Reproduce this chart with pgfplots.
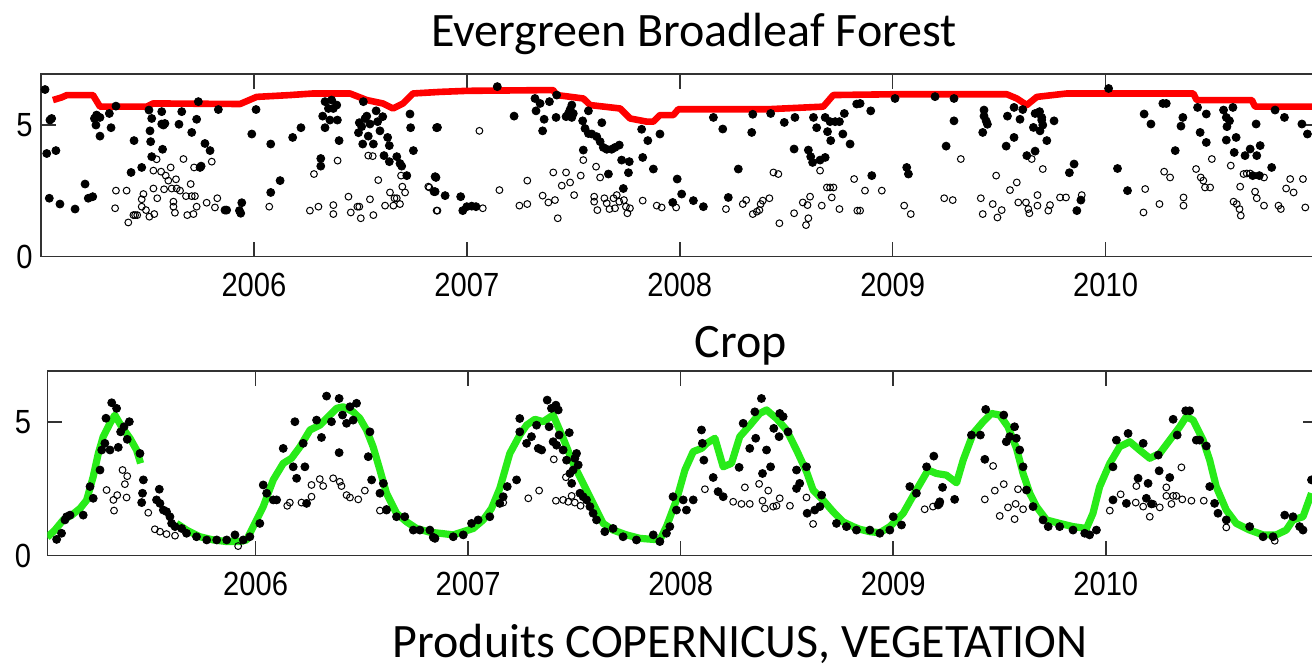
\documentclass[border=0pt]{standalone}
\usepackage{pgfplots}
\usepackage{pgfplotstable}
\pgfplotsset{compat=1.18}
\usepackage{fontspec}
\setmainfont{Carlito}
\newfontfamily\tickfam{Liberation Sans}
\newcommand\tickfont{\tickfam\fontsize{16.75}{18}\selectfont}
\definecolor{evred}{RGB}{255,0,0}
\definecolor{crgreen}{RGB}{40,235,25}
\definecolor{axgray}{RGB}{50,50,50}
\pgfplotsset{
  panel/.style={scale only axis, xmin=2005, xmax=2011, ymin=0,
    xtick={2006,2007,2008,2009,2010}, xticklabels={2006,2007,2008,2009,2010},
    ytick={0,5}, yticklabels={0,5},
    tick align=inside, major tick length=7.5pt,
    axis line style={line width=0.8pt, draw=axgray},
    tick style={line width=0.8pt, draw=axgray},
    xticklabel style={font=\tickfont, anchor=north, inner sep=0pt, yshift=-8.25pt, xscale=0.87},
    yticklabel style={font=\tickfont, anchor=east, inner sep=0pt, xshift=-4pt, xscale=0.87},
  },
  fdot/.style={only marks, mark=*, mark size=2pt, mark options={fill=black, draw=black}},
  odot/.style={only marks, mark=o, mark size=1.7pt, mark options={draw=black, line width=0.5pt, fill=none}},
}
\pgfplotstableread{
x y
2005.628 1.21
2005.675 0.96
2005.738 0.71
2005.801 0.59
2005.864 0.53
2005.926 0.53
2005.958 0.59
2005.989 1.09
2006.036 1.84
2006.083 2.84
2006.130 3.46
2006.169 3.65
2006.209 4.08
2006.256 4.71
2006.302 4.89
2006.350 5.27
2006.381 5.52
2006.412 5.58
2006.459 5.39
2006.491 5.14
2006.522 4.71
2006.553 4.08
2006.585 3.21
2006.616 2.34
2006.663 1.59
2006.710 1.27
2006.757 1.02
2006.820 0.88
2006.867 0.84
2006.930 0.78
2006.977 0.90
2007.024 1.02
2007.071 1.34
2007.110 1.77
2007.149 2.52
2007.196 3.83
2007.243 4.52
2007.275 4.89
2007.314 5.11
2007.353 5.02
2007.400 5.27
2007.447 4.40
2007.494 3.46
2007.541 2.71
2007.588 1.96
2007.635 1.21
2007.682 0.96
2007.745 0.78
2007.808 0.65
2007.871 0.61
2007.902 0.59
2007.933 1.09
2007.980 2.08
2008.020 3.21
2008.059 3.90
2008.098 4.02
2008.122 4.21
2008.161 4.40
2008.200 3.33
2008.239 3.46
2008.278 4.46
2008.326 4.89
2008.372 5.33
2008.404 5.46
2008.451 5.14
2008.498 4.71
2008.545 3.96
2008.592 3.15
2008.623 2.46
2008.670 2.08
2008.717 1.65
2008.764 1.27
2008.811 1.09
2008.843 0.99
2008.890 0.90
2008.937 0.86
2008.984 1.09
2009.047 1.59
2009.109 2.46
2009.164 3.21
2009.203 3.08
2009.250 3.02
2009.298 2.73
2009.329 3.58
2009.376 4.58
2009.423 5.02
2009.462 5.33
2009.501 5.27
2009.540 4.83
2009.580 4.02
2009.611 3.08
2009.643 2.33
2009.674 1.84
2009.721 1.34
2009.783 1.21
2009.846 1.09
2009.909 1.02
2009.940 1.59
2009.971 2.58
2010.019 3.46
2010.065 4.08
2010.113 4.27
2010.159 3.96
2010.207 3.65
2010.254 3.83
2010.301 4.33
2010.348 4.83
2010.379 5.21
2010.411 5.08
2010.458 4.33
2010.489 3.58
2010.520 2.58
2010.567 1.71
2010.614 1.21
2010.677 0.96
2010.740 0.78
2010.802 0.78
2010.849 0.96
2010.881 1.34
2010.928 1.46
2010.968 2.34
}\greenB
\pgfplotstableread{
x y
2005.020 0.69
2005.056 0.96
2005.095 1.34
2005.135 1.52
2005.174 1.77
2005.205 2.08
2005.236 2.96
2005.260 3.83
2005.283 4.46
2005.315 4.96
2005.338 5.27
2005.370 4.83
2005.409 4.40
2005.440 3.96
2005.459 3.46
}\greenA
\begin{document}
\begin{tikzpicture}
% ---------------- Evergreen Broadleaf Forest ----------------
\begin{axis}[panel, at={(20.5pt,205.65pt)}, anchor=south west,
  width=638.75pt, height=91.35pt, ymax=6.94]
\addplot[odot] table {
x y
2005.348 1.84
2005.352 2.51
2005.402 2.51
2005.410 1.30
2005.434 1.58
2005.442 1.58
2005.452 1.58
2005.473 1.90
2005.473 2.18
2005.481 2.38
2005.493 1.77
2005.509 1.52
2005.528 2.59
2005.532 1.62
2005.528 3.27
2005.543 3.70
2005.546 2.22
2005.564 3.23
2005.578 2.56
2005.586 3.08
2005.598 2.89
2005.609 3.39
2005.614 2.59
2005.622 2.09
2005.622 1.90
2005.629 1.67
2005.634 2.94
2005.637 2.59
2005.653 2.51
2005.669 3.71
2005.681 2.30
2005.687 1.58
2005.703 2.76
2005.708 2.30
2005.716 1.62
2005.719 3.39
2005.723 2.30
2005.731 1.90
2005.778 2.05
2005.802 3.61
2005.817 1.87
2005.828 2.22
2006.072 1.90
2006.263 1.75
2006.282 3.14
2006.303 1.90
2006.373 1.96
2006.373 1.62
2006.393 3.65
2006.444 2.28
2006.455 1.68
2006.486 1.90
2006.495 1.90
2006.502 1.46
2006.545 2.18
2006.561 1.58
2006.584 2.91
2006.537 3.84
2006.558 3.82
2006.616 1.94
2006.639 2.44
2006.655 1.94
2006.660 2.22
2006.671 2.22
2006.686 2.00
2006.691 3.08
2006.697 2.66
2006.710 2.44
2006.819 2.66
2006.858 1.75
2006.824 2.63
2006.862 1.75
2007.059 4.78
2007.075 1.84
2007.153 2.53
2007.247 1.94
2007.284 2.00
2007.284 2.89
2007.356 2.32
2007.383 2.06
2007.414 2.15
2007.406 3.20
2007.427 1.46
2007.446 2.70
2007.466 3.20
2007.485 2.82
2007.504 2.34
2007.535 3.08
2007.547 3.67
2007.598 2.28
2007.598 2.09
2007.607 3.42
2007.613 1.77
2007.626 3.01
2007.646 2.22
2007.657 2.03
2007.670 1.81
2007.689 2.22
2007.696 1.84
2007.704 2.34
2007.716 2.09
2007.738 2.15
2007.747 1.90
2007.754 1.65
2007.766 1.84
2007.826 2.13
2007.892 1.94
2007.915 1.87
2007.983 1.87
2008.217 1.81
2008.296 2.00
2008.312 2.15
2008.343 1.62
2008.362 1.71
2008.374 1.77
2008.380 2.00
2008.390 2.13
2008.421 2.22
2008.440 3.20
2008.463 3.14
2008.468 1.27
2008.537 1.65
2008.578 2.06
2008.593 1.20
2008.604 1.46
2008.600 1.96
2008.612 2.28
2008.659 3.27
2008.667 1.94
2008.691 2.63
2008.706 2.63
2008.722 2.63
2008.714 2.25
2008.750 1.81
2008.819 2.95
2008.834 1.75
2008.870 2.51
2008.949 2.51
2008.847 1.75
2009.054 1.94
2009.085 1.62
2009.242 2.22
2009.282 2.15
2009.320 3.71
2009.486 3.08
2009.414 2.22
2009.423 1.62
2009.470 2.00
2009.492 1.49
2009.512 1.77
2009.551 2.53
2009.583 2.82
2009.590 2.06
2009.626 2.06
2009.637 1.81
2009.642 1.65
2009.653 3.71
2009.680 2.34
2009.680 1.94
2009.705 3.33
2009.731 1.75
2009.739 1.96
2009.786 2.25
2009.814 2.25
2009.888 2.34
2010.178 1.68
2010.186 2.57
2010.253 2.00
2010.275 3.23
2010.303 3.01
2010.366 2.25
2010.366 1.94
2010.425 3.33
2010.447 3.01
2010.459 2.89
2010.467 2.63
2010.491 2.63
2010.499 3.71
2010.588 3.46
2010.601 2.09
2010.616 2.00
2010.629 1.81
2010.635 1.56
2010.632 2.66
2010.648 3.14
2010.663 3.16
2010.679 3.16
2010.702 2.47
2010.710 2.22
2010.744 1.94
2010.744 3.01
2010.812 1.94
2010.823 1.81
2010.848 2.59
2010.867 2.95
2010.883 2.44
2010.927 2.95
2010.938 1.87
};
\addplot[fdot] table {
x y
2005.019 6.35
2005.027 3.92
2005.039 2.22
2005.042 5.19
2005.050 5.25
2005.070 4.03
2005.089 2.00
2005.160 1.81
2005.207 2.76
2005.222 2.22
2005.243 2.28
2005.251 5.25
2005.258 5.00
2005.261 5.38
2005.277 4.58
2005.277 5.29
2005.321 5.44
2005.329 4.90
2005.352 5.72
2005.423 3.20
2005.437 4.41
2005.473 3.39
2005.507 5.57
2005.512 4.78
2005.515 4.37
2005.520 5.25
2005.520 3.80
2005.567 5.51
2005.571 4.08
2005.567 5.04
2005.575 5.00
2005.582 5.06
2005.648 5.03
2005.661 5.51
2005.708 4.72
2005.731 5.22
2005.739 5.89
2005.747 3.39
2005.752 3.44
2005.770 4.30
2005.794 4.03
2005.833 5.59
2005.864 1.77
2005.872 1.77
2005.932 1.75
2005.938 1.65
2005.943 2.05
2005.990 4.66
2006.010 5.59
2006.079 4.28
2006.079 2.44
2006.123 2.89
2006.182 4.53
2006.221 4.90
2006.314 3.44
2006.314 3.73
2006.323 5.34
2006.334 4.90
2006.334 5.89
2006.350 5.63
2006.357 5.19
2006.365 5.95
2006.373 5.63
2006.389 5.76
2006.392 5.19
2006.400 4.41
2006.491 4.71
2006.495 5.09
2006.506 4.94
2006.511 4.28
2006.514 5.89
2006.522 5.25
2006.530 5.34
2006.537 4.58
2006.545 5.04
2006.561 4.28
2006.574 5.54
2006.581 5.13
2006.592 4.78
2006.605 5.32
2006.611 3.84
2006.628 4.53
2006.636 4.22
2006.636 3.61
2006.671 3.80
2006.686 3.54
2006.694 3.44
2006.718 3.08
2006.733 5.42
2006.736 4.90
2006.749 4.03
2006.851 3.04
2006.851 2.47
2006.858 4.90
2007.143 6.46
2006.862 4.91
2006.855 3.01
2006.846 2.47
2006.898 2.32
2006.971 2.28
2006.981 1.75
2007.000 1.90
2007.023 1.92
2007.043 1.90
2007.222 5.34
2007.320 6.01
2007.325 5.54
2007.344 5.82
2007.356 4.78
2007.363 5.22
2007.388 5.89
2007.419 5.29
2007.422 6.14
2007.466 5.32
2007.477 5.44
2007.485 5.59
2007.493 5.29
2007.500 5.44
2007.493 5.76
2007.544 5.16
2007.555 4.87
2007.571 5.54
2007.571 4.68
2007.587 4.66
2007.610 4.56
2007.634 5.09
2007.626 4.37
2007.641 4.15
2007.657 4.08
2007.680 4.08
2007.696 4.15
2007.716 4.24
2007.547 4.05
2007.727 3.67
2007.763 3.61
2007.759 3.19
2007.665 3.14
2007.735 2.59
2007.821 4.84
2007.850 4.41
2007.826 3.77
2007.876 3.33
2007.907 4.66
2007.988 2.95
2008.009 2.38
2008.064 2.13
2008.111 1.90
2007.967 2.06
2008.158 5.29
2008.202 4.85
2008.228 2.25
2008.275 3.33
2008.338 4.72
2008.343 5.41
2008.427 5.44
2008.491 5.10
2008.541 5.29
2008.537 4.09
2008.604 4.05
2008.615 3.80
2008.624 3.58
2008.628 5.29
2008.643 4.90
2008.659 3.67
2008.683 3.77
2008.683 5.29
2008.694 4.75
2008.709 4.41
2008.706 5.13
2008.730 5.13
2008.750 5.13
2008.766 4.66
2008.773 5.44
2008.800 4.28
2008.831 5.80
2008.847 5.82
2008.897 5.54
2009.011 6.01
2009.199 6.08
2009.288 6.01
2009.288 5.16
2009.251 4.20
2008.902 3.08
2009.066 3.39
2009.074 3.14
2009.429 5.57
2009.429 5.34
2009.439 5.16
2009.445 5.03
2009.423 4.72
2009.539 5.34
2009.570 5.67
2009.598 5.22
2009.611 5.59
2009.570 4.53
2009.533 4.20
2009.630 3.84
2009.669 4.01
2009.661 4.91
2009.669 5.44
2009.690 5.51
2009.700 5.29
2009.705 5.00
2009.692 4.78
2009.700 5.19
2009.724 4.41
2009.758 5.16
2009.830 3.19
2009.852 3.52
2009.865 1.75
2009.884 2.15
2010.014 6.39
2010.056 3.35
2010.103 2.51
2010.181 5.42
2010.213 5.04
2010.269 5.82
2010.285 5.82
2010.327 4.03
2010.354 4.96
2010.363 5.29
2010.432 5.67
2010.473 5.42
2010.444 4.72
2010.473 4.34
2010.554 5.57
2010.567 5.29
2010.570 4.94
2010.582 5.16
2010.567 4.43
2010.613 4.53
2010.604 3.96
2010.655 3.84
2010.679 4.09
2010.707 5.04
2010.710 3.84
2010.726 4.22
2010.691 3.08
2010.722 3.08
2010.780 3.39
2010.598 5.67
2010.796 5.57
2010.840 5.29
2010.922 5.04
2010.948 4.66
};
\addplot[evred, line width=3.3pt, no marks, line join=round] table {
x y
2005.056 5.95
2005.097 6.05
2005.122 6.14
2005.244 6.14
2005.262 5.90
2005.277 5.70
2005.496 5.70
2005.526 5.82
2005.559 5.82
2005.935 5.80
2006.013 6.07
2006.170 6.14
2006.278 6.20
2006.451 6.20
2006.530 5.95
2006.606 5.82
2006.653 5.63
2006.700 5.82
2006.747 6.20
2006.874 6.26
2007.000 6.30
2007.405 6.33
2007.422 6.14
2007.547 6.01
2007.579 5.76
2007.720 5.63
2007.767 5.25
2007.845 5.13
2007.876 5.13
2007.907 5.38
2007.970 5.38
2007.993 5.60
2008.409 5.60
2008.674 5.70
2008.721 6.14
2009.000 6.17
2009.536 6.17
2009.583 6.01
2009.630 5.76
2009.677 6.07
2009.818 6.20
2010.412 6.20
2010.428 5.95
2010.687 5.95
2010.702 5.70
2011.000 5.70
};
\end{axis}
% ---------------- Crop ----------------
\begin{axis}[panel, at={(23.65pt,56.15pt)}, anchor=south west,
  width=635.5pt, height=92.35pt, xmin=2005.02, ymax=6.92,
  yticklabel style={xshift=-4.5pt}]
\addplot[odot] table {
x y
2005.334 1.69
2005.331 2.09
2005.349 2.27
2005.374 3.21
2005.396 2.98
2005.385 2.68
2005.393 2.18
2005.299 2.46
2005.495 1.61
2005.526 0.99
2005.550 0.90
2005.581 0.81
2005.621 0.75
2005.918 0.36
2006.149 1.87
2006.161 1.99
2006.216 1.99
2006.263 2.65
2006.263 2.21
2006.302 2.87
2006.318 2.61
2006.365 2.90
2006.396 2.77
2006.404 2.61
2006.428 2.27
2006.444 2.18
2006.483 2.11
2006.514 2.44
2006.585 1.69
2006.616 1.75
2007.165 1.99
2007.283 2.15
2007.334 2.44
2007.403 3.61
2007.413 2.06
2007.447 2.09
2007.460 2.94
2007.471 2.02
2007.487 2.24
2007.502 1.99
2007.529 1.87
2008.114 2.49
2008.247 2.02
2008.286 1.94
2008.325 1.94
2008.302 2.56
2008.369 2.69
2008.412 2.44
2008.385 2.06
2008.396 1.77
2008.435 1.84
2008.451 1.87
2008.466 2.15
2008.514 1.87
2008.592 2.18
2008.623 1.19
2009.148 1.74
2009.187 1.84
2009.219 1.94
2009.431 2.11
2009.470 3.36
2009.478 2.44
2009.501 1.49
2009.520 2.68
2009.540 1.81
2009.571 1.37
2009.576 1.94
2009.587 2.49
2009.611 1.74
2010.019 1.69
2010.070 2.30
2010.144 2.61
2010.141 1.99
2010.176 1.84
2010.207 1.46
2010.223 1.94
2010.254 1.81
2010.285 2.56
2010.285 2.24
2010.309 1.94
2010.317 2.24
2010.332 2.24
2010.356 3.31
2010.360 2.11
2010.403 2.06
2010.461 2.06
2010.567 1.06
2010.795 0.56
};
\addplot[fdot] table {
x y
2005.064 0.61
2005.087 0.84
2005.103 1.34
2005.111 1.46
2005.127 1.52
2005.189 1.52
2005.221 2.59
2005.236 2.15
2005.268 3.21
2005.276 3.96
2005.291 4.21
2005.296 5.15
2005.315 3.96
2005.323 5.73
2005.346 5.52
2005.354 4.06
2005.365 4.64
2005.381 4.83
2005.396 4.36
2005.406 5.02
2005.456 3.83
2005.472 2.84
2005.468 2.34
2005.464 1.99
2005.547 2.49
2005.534 2.09
2005.550 1.96
2005.566 1.71
2005.581 1.65
2005.597 1.46
2005.605 1.21
2005.621 1.09
2005.652 1.02
2005.675 0.84
2005.722 0.71
2005.770 0.59
2005.817 0.59
2005.864 0.59
2005.903 0.78
2005.942 0.59
2005.973 0.71
2006.036 2.65
2006.020 1.21
2006.052 2.34
2006.083 2.09
2006.099 2.09
2006.130 4.02
2006.177 3.33
2006.185 5.02
2006.193 2.90
2006.224 4.21
2006.232 3.33
2006.240 1.96
2006.287 5.08
2006.310 4.43
2006.334 5.98
2006.357 5.02
2006.393 3.86
2006.393 5.89
2006.409 5.27
2006.428 4.96
2006.444 5.58
2006.475 5.71
2006.459 5.08
2006.538 4.64
2006.530 3.71
2006.546 2.84
2006.585 2.34
2006.601 2.71
2006.616 1.71
2006.663 1.46
2006.702 1.46
2006.742 0.96
2006.773 0.96
2006.820 0.96
2006.844 0.65
2006.836 0.69
2006.930 0.71
2006.977 0.78
2007.016 1.21
2007.047 1.34
2007.102 1.46
2007.149 1.96
2007.165 2.21
2007.184 2.59
2007.228 2.84
2007.243 5.14
2007.243 4.64
2007.275 4.21
2007.298 4.46
2007.322 4.89
2007.330 4.02
2007.346 3.96
2007.372 5.83
2007.381 4.83
2007.392 5.52
2007.413 5.64
2007.424 5.46
2007.400 4.27
2007.416 4.14
2007.428 4.52
2007.447 3.96
2007.463 3.58
2007.476 4.61
2007.479 3.08
2007.487 2.71
2007.494 3.21
2007.502 3.65
2007.518 3.40
2007.510 3.83
2007.526 2.34
2007.541 2.21
2007.557 2.09
2007.573 1.84
2007.588 1.59
2007.604 1.34
2007.643 0.90
2007.682 1.02
2007.729 0.71
2007.792 0.59
2007.871 0.78
2007.902 0.53
2007.933 0.84
2007.949 1.09
2007.964 2.21
2007.980 1.71
2008.012 2.09
2008.027 1.71
2008.059 2.09
2008.098 4.71
2008.102 4.21
2008.109 3.58
2008.153 2.93
2008.176 2.40
2008.200 2.21
2008.275 3.31
2008.294 4.96
2008.325 4.02
2008.349 5.39
2008.353 4.40
2008.380 5.89
2008.385 3.08
2008.404 3.96
2008.423 3.33
2008.438 4.77
2008.463 4.46
2008.466 5.33
2008.482 5.21
2008.505 4.64
2008.545 3.21
2008.545 2.52
2008.560 2.71
2008.592 3.33
2008.595 1.59
2008.631 1.71
2008.655 1.84
2008.663 2.27
2008.733 1.21
2008.780 1.09
2008.827 0.96
2008.890 0.96
2008.937 0.84
2008.984 0.96
2009.000 1.46
2009.039 1.15
2009.078 2.59
2009.109 2.34
2009.157 3.33
2009.191 3.73
2009.211 1.90
2009.219 2.02
2009.232 2.56
2009.289 2.11
2009.368 4.52
2009.410 4.52
2009.435 5.48
2009.431 3.61
2009.520 5.27
2009.532 4.27
2009.548 4.46
2009.571 4.83
2009.579 4.40
2009.595 3.96
2009.611 3.33
2009.627 2.46
2009.658 1.84
2009.705 1.34
2009.729 1.09
2009.783 1.09
2009.846 0.96
2009.901 0.84
2009.924 0.78
2009.956 0.96
2010.034 3.33
2010.050 4.33
2010.034 2.09
2010.097 1.96
2010.105 4.58
2010.152 2.90
2010.176 4.21
2010.199 2.71
2010.191 2.15
2010.215 1.94
2010.247 3.77
2010.251 3.18
2010.301 2.93
2010.317 5.11
2010.336 4.52
2010.376 5.43
2010.395 5.43
2010.426 4.33
2010.442 4.33
2010.473 4.11
2010.489 2.59
2010.512 1.96
2010.528 1.59
2010.567 1.34
2010.677 1.09
2010.740 0.71
2010.787 0.71
2010.842 1.52
2010.881 1.46
2010.912 1.09
2010.928 0.96
2010.968 2.84
};
\addplot[crgreen, line width=3.6pt, no marks, line join=round] table {\greenA};
\addplot[crgreen, line width=3.6pt, no marks, line join=round] table {\greenB};
\end{axis}
\node[anchor=base, font=\fontsize{24}{28}\selectfont, inner sep=0pt] at (347pt,310.5pt) {Evergreen Broadleaf Forest};
\node[anchor=base, font=\fontsize{24}{28}\selectfont, inner sep=0pt] at (370.5pt,155pt) {Crop};
\node[anchor=base, font=\fontsize{24}{28}\selectfont, inner sep=0pt] at (370pt,5pt) {Produits COPERNICUS, VEGETATION};
\pgfresetboundingbox
\path[use as bounding box] (0,0) rectangle (656pt,334pt);
\end{tikzpicture}
\end{document}
